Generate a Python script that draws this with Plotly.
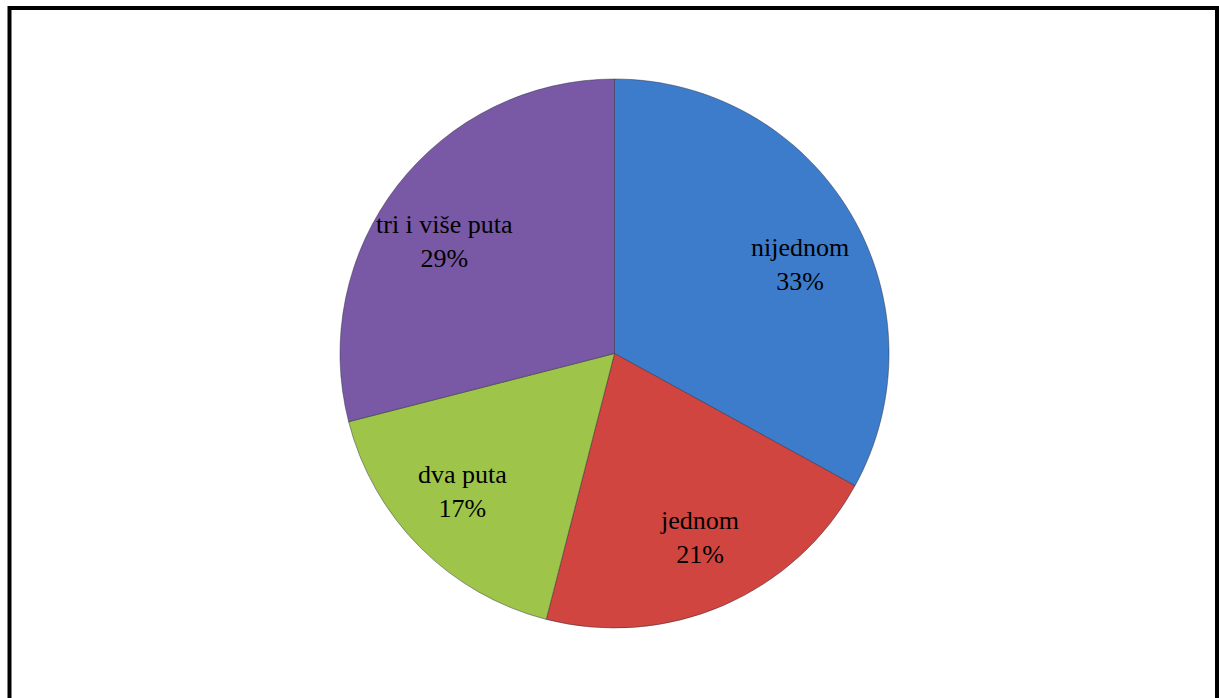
import math
import plotly.graph_objects as go

categories = ["nijednom", "jednom", "dva puta", "tri i više puta"]
values = [33, 21, 17, 29]
colors = ["#3d7ccb", "#d04540", "#9ec54a", "#7958a5"]

W, H = 1219, 698
cx, cy, r = 614.5, 353.5, 274.5
label_frac = 0.783
label_dy = 20  # px, labels sit slightly below the slice mid-line

fig = go.Figure(go.Pie(
    labels=categories,
    values=values,
    sort=False,
    direction="clockwise",
    rotation=0,
    marker=dict(colors=colors, line=dict(color="rgba(40,40,60,0.45)", width=1)),
    textinfo="none",
    showlegend=False,
    hoverinfo="label+percent",
    domain=dict(x=[(cx - r) / W, (cx + r) / W], y=[1 - (cy + r) / H, 1 - (cy - r) / H]),
))

# data labels placed at each slice's mid angle (computed from the values)
total = sum(values)
acc = 0.0
annotations = []
for cat, v in zip(categories, values):
    mid = (acc + v / 2) / total * 2 * math.pi
    acc += v
    R = r * label_frac
    px = cx + R * math.sin(mid)
    py = cy - R * math.cos(mid) + label_dy
    annotations.append(dict(
        x=px / W, y=1 - py / H, xref="paper", yref="paper",
        text=f"{cat}<br>{round(v / total * 100)}%",
        showarrow=False, align="center",
        font=dict(family="Liberation Serif", size=26, color="black"),
    ))

fig.update_layout(
    width=W, height=H,
    margin=dict(l=0, r=0, t=0, b=0),
    paper_bgcolor="white",
    plot_bgcolor="white",
    annotations=annotations,
    shapes=[dict(type="rect", xref="paper", yref="paper",
                 x0=9.5 / W, x1=1217 / W, y0=-0.02, y1=1 - 8 / H,
                 line=dict(color="black", width=4), fillcolor="rgba(0,0,0,0)")],
)

fig.write_html("out.html", config={"displayModeBar": False},
               post_script="document.body.style.margin='0';")
